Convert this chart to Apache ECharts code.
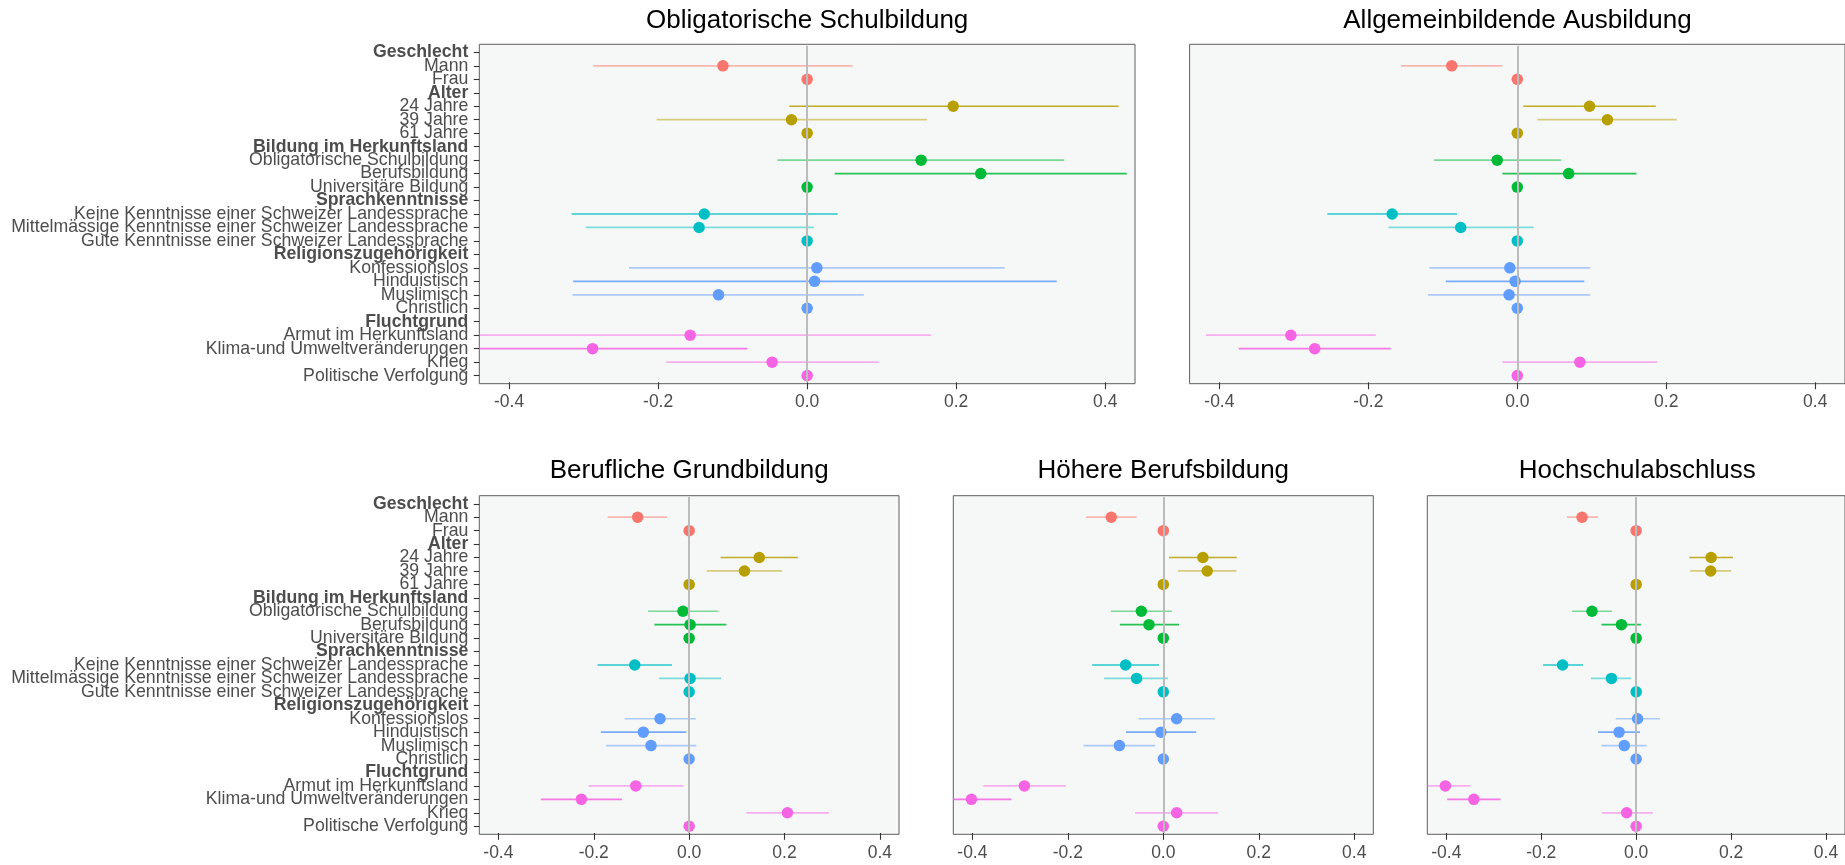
<!DOCTYPE html>
<html><head><meta charset="utf-8">
<script src="https://cdn.jsdelivr.net/npm/echarts@6/dist/echarts.min.js"></script>
<style>html,body{margin:0;padding:0;background:#fff}#c{width:1845px;height:865px}</style>
</head><body><div id="c"></div>
<script>
// ---------- DATA ----------
const categories = ['Geschlecht','Mann','Frau','Alter','24 Jahre','39 Jahre','61 Jahre',
  'Bildung im Herkunftsland','Obligatorische Schulbildung','Berufsbildung','Universitäre Bildung',
  'Sprachkenntnisse','Keine Kenntnisse einer Schweizer Landessprache','Mittelmässige Kenntnisse einer Schweizer Landessprache','Gute Kenntnisse einer Schweizer Landessprache',
  'Religionszugehörigkeit','Konfessionslos','Hinduistisch','Muslimisch','Christlich',
  'Fluchtgrund','Armut im Herkunftsland','Klima-und Umweltveränderungen','Krieg','Politische Verfolgung'];
const headerRows = ['Geschlecht','Alter','Bildung im Herkunftsland','Sprachkenntnisse','Religionszugehörigkeit','Fluchtgrund'];
const groupColors = ['#F8766D','#B79F00','#00BA38','#00BFC4','#619CFF','#F564E3'];
const panelTitles = ['Obligatorische Schulbildung','Allgemeinbildende Ausbildung','Berufliche Grundbildung','Höhere Berufsbildung','Hochschulabschluss'];
const xTickValues = [-0.4,-0.2,0,0.2,0.4];
const strongRows = ['24 Jahre','Berufsbildung','Keine Kenntnisse einer Schweizer Landessprache','Hinduistisch','Klima-und Umweltveränderungen'];

const estObligatorisch = [null,-0.113,0,null,0.196,-0.021,0,null,0.153,0.233,0,null,-0.138,-0.145,0,null,0.013,0.010,-0.119,0,null,-0.157,-0.288,-0.047,0];
const loObligatorisch  = [null,-0.287,null,null,-0.024,-0.202,null,null,-0.040,0.037,null,null,-0.316,-0.297,null,null,-0.239,-0.314,-0.315,null,null,-0.480,-0.496,-0.189,null];
const hiObligatorisch  = [null,0.061,null,null,0.418,0.161,null,null,0.345,0.429,null,null,0.041,0.009,null,null,0.265,0.335,0.076,null,null,0.166,-0.080,0.096,null];

const estAllgemein = [null,-0.088,0,null,0.097,0.121,0,null,-0.027,0.069,0,null,-0.168,-0.076,0,null,-0.010,-0.003,-0.011,0,null,-0.304,-0.272,0.084,0];
const loAllgemein  = [null,-0.156,null,null,0.008,0.027,null,null,-0.112,-0.020,null,null,-0.255,-0.173,null,null,-0.118,-0.096,-0.120,null,null,-0.418,-0.374,-0.020,null];
const hiAllgemein  = [null,-0.020,null,null,0.186,0.214,null,null,0.059,0.160,null,null,-0.081,0.022,null,null,0.098,0.090,0.098,null,null,-0.190,-0.170,0.188,null];

const estGrund = [null,-0.108,0,null,0.147,0.116,0,null,-0.013,0.002,0,null,-0.114,0.002,0,null,-0.061,-0.096,-0.080,0,null,-0.112,-0.226,0.206,0];
const loGrund  = [null,-0.171,null,null,0.066,0.037,null,null,-0.086,-0.073,null,null,-0.192,-0.063,null,null,-0.135,-0.185,-0.174,null,null,-0.211,-0.311,0.120,null];
const hiGrund  = [null,-0.046,null,null,0.228,0.195,null,null,0.061,0.078,null,null,-0.036,0.067,null,null,0.014,-0.006,0.015,null,null,-0.012,-0.141,0.293,null];

const estHoehere = [null,-0.109,0,null,0.083,0.092,0,null,-0.046,-0.030,0,null,-0.079,-0.056,0,null,0.028,-0.005,-0.092,0,null,-0.291,-0.402,0.028,0];
const loHoehere  = [null,-0.162,null,null,0.012,0.031,null,null,-0.110,-0.091,null,null,-0.149,-0.124,null,null,-0.052,-0.078,-0.167,null,null,-0.377,-0.486,-0.059,null];
const hiHoehere  = [null,-0.056,null,null,0.154,0.153,null,null,0.018,0.033,null,null,-0.009,0.010,null,null,0.108,0.069,-0.017,null,null,-0.204,-0.318,0.115,null];

const estHochschule = [null,-0.114,0,null,0.158,0.157,0,null,-0.093,-0.031,0,null,-0.155,-0.052,0,null,0.003,-0.036,-0.025,0,null,-0.402,-0.342,-0.020,0];
const loHochschule  = [null,-0.146,null,null,0.112,0.114,null,null,-0.135,-0.073,null,null,-0.196,-0.095,null,null,-0.043,-0.080,-0.073,null,null,-0.455,-0.398,-0.072,null];
const hiHochschule  = [null,-0.080,null,null,0.204,0.200,null,null,-0.051,0.010,null,null,-0.112,-0.010,null,null,0.050,0.008,0.022,null,null,-0.349,-0.286,0.035,null];

const panelData = [
  [estObligatorisch, loObligatorisch, hiObligatorisch],
  [estAllgemein, loAllgemein, hiAllgemein],
  [estGrund, loGrund, hiGrund],
  [estHoehere, loHoehere, hiHoehere],
  [estHochschule, loHochschule, hiHochschule]
];

// ---------- LAYOUT ----------
const layout = [
  {left:479.3, top:44.3, width:655.7, height:339.4, labels:true,  titleY:21},
  {left:1189.6,top:44.3, width:655.7, height:339.4, labels:false, titleY:21},
  {left:479.3, top:495.7,width:419.7, height:338.6, labels:true,  titleY:471},
  {left:953.3, top:495.7,width:420,   height:338.6, labels:false, titleY:471},
  {left:1427.3,top:495.7,width:420,   height:338.6, labels:false, titleY:471}
];
const FONT = '"Liberation Sans", Arial, Helvetica, sans-serif';

// group index per row
const rowGroup = [];
let g = -1;
categories.forEach(c => { if (headerRows.includes(c)) g++; rowGroup.push(g); });

const grids = [], xAxes = [], yAxes = [], series = [], graphics = [];
layout.forEach((L, i) => {
  // ggplot discrete scale: 0.6 unit padding at each end -> inner band area inset by 0.1 band
  const band = L.height / (categories.length + 0.2);
  const inset = 0.1 * band;
  grids.push({left:L.left, top:L.top + inset, width:L.width, height:L.height - 2 * inset, show:false, containLabel:false});
  xAxes.push({type:'value', gridIndex:i, min:-0.44, max:0.44,
    axisLine:{show:false, onZero:false}, splitLine:{show:false},
    axisTick:{show:true, length:5.5 + inset, customValues:xTickValues, lineStyle:{color:'#333', width:1.1}},
    axisLabel:{show:true, customValues:xTickValues, margin:9.5 + inset, color:'#4d4d4d', fontSize:17.5, fontFamily:FONT,
      formatter:v => v.toFixed(1)}});
  yAxes.push({type:'category', gridIndex:i, data:categories, inverse:true, boundaryGap:true,
    axisLine:{show:false, onZero:false}, splitLine:{show:false},
    axisTick:{show:L.labels, alignWithLabel:true, interval:0, length:5.5, lineStyle:{color:'#333', width:1.1}},
    axisLabel:{show:L.labels, interval:0, margin:11, fontFamily:FONT, fontSize:17.7, color:'#4d4d4d',
      formatter:v => headerRows.includes(v) ? '{h|' + v + '}' : '{n|' + v + '}',
      rich:{h:{fontWeight:'bold', fontSize:17.7, fontFamily:FONT, color:'#4d4d4d'},
            n:{fontSize:17.7, fontFamily:FONT, color:'#4d4d4d'}}}});

  const [est, lo, hi] = panelData[i];
  // zero reference line
  series.push({type:'line', xAxisIndex:i, yAxisIndex:i, data:[], z:1, silent:true,
    markLine:{silent:true, symbol:['none','none'], label:{show:false},
      lineStyle:{color:'#bcbcbc', width:2, type:'solid'}, data:[{xAxis:0}]}});
  // error bars
  const bars = [];
  categories.forEach((c, r) => {
    if (lo[r] != null && hi[r] != null) bars.push([lo[r], hi[r], r, rowGroup[r], strongRows.includes(c) ? 0.85 : 0.5]);
  });
  series.push({type:'custom', xAxisIndex:i, yAxisIndex:i, z:2, silent:true, clip:true,
    encode:{x:[0,1], y:2}, data:bars,
    renderItem:(params, api) => {
      const r = api.value(2);
      const p1 = api.coord([api.value(0), r]);
      const p2 = api.coord([api.value(1), r]);
      const cs = params.coordSys;
      const x1 = Math.max(p1[0], cs.x), x2 = Math.min(p2[0], cs.x + cs.width);
      return {type:'line', shape:{x1:x1, y1:p1[1], x2:x2, y2:p2[1]},
        style:{stroke:groupColors[api.value(3)], lineWidth:1.7, opacity:api.value(4)}};
    }});
  // points
  const pts = [];
  categories.forEach((c, r) => {
    if (est[r] != null) pts.push({value:[est[r], r], itemStyle:{color:groupColors[rowGroup[r]], opacity:1}});
  });
  series.push({type:'scatter', xAxisIndex:i, yAxisIndex:i, z:3, symbolSize:11.5, data:pts, silent:true,
    itemStyle:{opacity:1}});
  // title
  graphics.push({type:'text', x:L.left + L.width/2, y:L.titleY, silent:true,
    style:{text:panelTitles[i], fill:'#000', fontSize:26, fontFamily:FONT, align:'center', verticalAlign:'middle'}});
});
// panel frames (background + border), drawn as extra grids behind the data
layout.forEach(L => {
  grids.push({left:L.left, top:L.top, width:L.width, height:L.height, show:true, z:-1,
    backgroundColor:'#f6f8f7', borderColor:'#5e5e5e', borderWidth:1, containLabel:false});
});

const chart = echarts.init(document.getElementById('c'));
chart.setOption({animation:false, backgroundColor:'#fff', grid:grids, xAxis:xAxes, yAxis:yAxes, series:series, graphic:graphics});
</script></body></html>
